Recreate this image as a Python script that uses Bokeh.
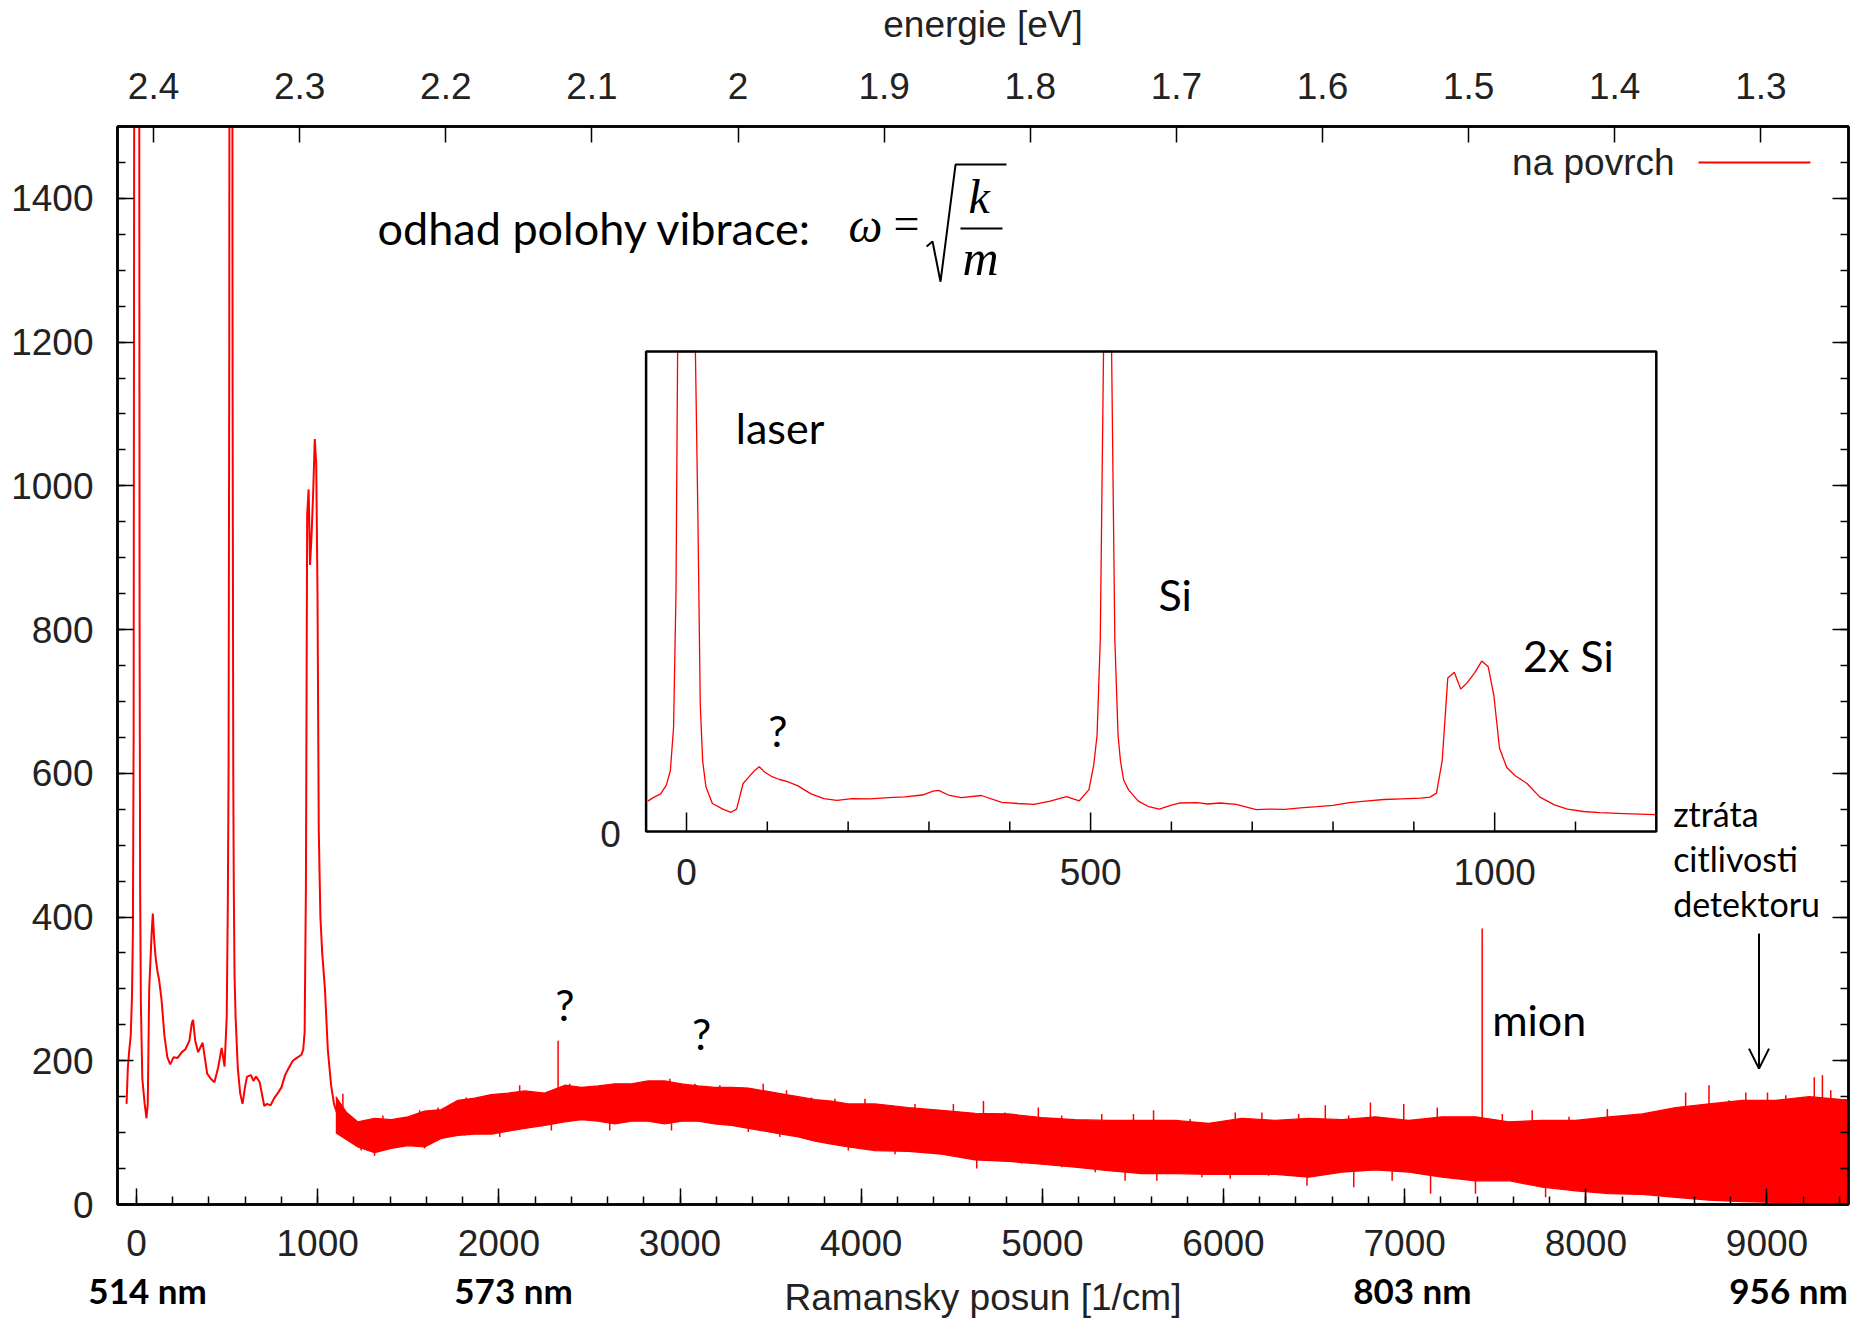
import numpy as np
from bokeh.plotting import figure
from bokeh.models import (Range1d, LinearAxis, FixedTicker, SingleIntervalTicker, Label,
                          Arrow, OpenHead, CustomJSTickFormatter)
from bokeh.embed import file_html
from bokeh.resources import INLINE
from bokeh.core.properties import value

# ---------------- data ----------------
# low-shift part of the Raman spectrum: shift [1/cm], counts
shift_low = [-55, -48, -40, -32, -25, -20, -16, -13, -11, -6, 0, 6, 11, 14, 17, 20, 24, 32, 45, 55,
             62, 70, 77, 84, 90, 97, 105, 115, 125, 138, 154, 170, 186, 205, 227, 250, 270, 292, 305,
             312, 324, 340, 365, 390, 410, 430, 450, 470, 486, 498, 504, 508, 512, 516, 521, 526, 530,
             534, 537, 541, 547, 559, 572, 585, 600, 610, 632, 645, 660, 680, 705, 720, 740, 760, 780,
             800, 820, 840, 863, 885, 909, 920, 928, 935, 942, 950, 958, 966, 975, 984, 992, 999,
             1006, 1015, 1025, 1040, 1056, 1074, 1090, 1110, 1130, 1160, 1199]
counts_low = [140, 190, 215, 235, 290, 380, 650, 1500, 3500, 12000, 30000, 12000, 4000, 2000, 800, 440,
              280, 175, 140, 120, 140, 300, 340, 380, 405, 370, 345, 325, 312, 285, 235, 205, 195, 205,
              204, 212, 216, 228, 252, 257, 228, 212, 225, 182, 175, 170, 190, 218, 192, 262, 420, 600,
              1200, 3000, 9000, 3000, 1200, 600, 440, 320, 260, 190, 155, 140, 165, 178, 180, 172, 178,
              170, 137, 140, 138, 148, 155, 163, 180, 190, 200, 204, 208, 215, 240, 440, 960, 995, 890,
              930, 990, 1065, 1030, 850, 520, 400, 350, 300, 215, 166, 140, 125, 118, 112, 105]

# noisy high-shift part: lower / upper edge of the noise band
band_shift = [1100, 1160, 1222, 1314, 1406, 1498, 1590, 1682, 1774, 1866, 1959, 2051, 2143, 2253,
              2364, 2456, 2548, 2640, 2732, 2824, 2916, 3008, 3100, 3192, 3284, 3377, 3469, 3561,
              3653, 3745, 3837, 3929, 4076, 4260, 4444, 4629, 4813, 4997, 5181, 5365, 5549, 5734,
              5918, 6102, 6286, 6470, 6655, 6839, 7023, 7207, 7391, 7575, 7760, 7944, 8128, 8312,
              8496, 8680, 8865, 9049, 9233, 9417, 9450]
band_low = [100, 90, 80, 72, 78, 82, 80, 92, 96, 98, 98, 102, 106, 110, 115, 118, 116, 112, 116, 116,
            112, 116, 116, 112, 110, 106, 102, 98, 94, 88, 84, 80, 75, 74, 70, 62, 60, 56, 52, 47, 43,
            43, 42, 42, 42, 38, 45, 48, 45, 38, 33, 33, 24, 19, 15, 14, 10, 6, 4, 3, 2, 2, 2]
band_high = [150, 128, 115, 120, 118, 122, 130, 132, 145, 148, 153, 155, 158, 155, 166, 163, 165, 168,
             168, 172, 172, 168, 165, 163, 163, 162, 158, 154, 150, 146, 144, 140, 140, 135, 131, 127,
             126, 121, 118, 117, 117, 117, 113, 120, 117, 120, 118, 122, 117, 122, 122, 115, 117, 117,
             122, 126, 135, 140, 145, 145, 150, 146, 146]

# single spikes sticking out of the band (incl. the "?" line at 2327 and the muon at 7428)
spike_shift = [1139, 1360, 1563, 1664, 1820, 1931, 2032, 2115, 2216, 2327, 2391, 2474, 2649, 2796,
               2944, 3082, 3220, 3340, 3459, 3588, 3726, 3855, 4021, 4168, 4297, 4509, 4675, 4794,
               4978, 5107, 5328, 5503, 5614, 5816, 6065, 6212, 6415, 6562, 6691, 6811, 6995, 7180,
               7428, 7539, 7704, 7907, 8119, 8275, 8423, 8551, 8680, 8791, 8883, 9003, 9104, 9261,
               9306, 9352, 9417,
               1240, 1314, 1590, 1811, 2005, 2290, 2612, 2953, 3377, 3551, 3726, 3929, 4187, 4638,
               4886, 5107, 5292, 5457, 5632, 5881, 6037, 6249, 6461, 6719, 6931, 7143, 7391, 7778,
               7999]
spike_counts = [154, 124, 131, 135, 149, 152, 154, 166, 154, 228, 168, 163, 168, 172,
                175, 168, 166, 163, 168, 159, 149, 147, 147, 138, 140, 140, 144, 128,
                135, 124, 126, 126, 131, 119, 128, 128, 126, 138, 124, 142, 140, 135,
                384, 126, 131, 122, 133, 126, 131, 156, 166, 145, 156, 156, 152, 177,
                180, 159, 122,
                75, 68, 78, 96, 94, 103, 103, 103, 101, 94, 89, 75, 70, 50,
                57, 52, 45, 33, 33, 38, 36, 40, 26, 24, 33, 15, 15, 10,
                6]

energy_ticks = [2.4, 2.3, 2.2, 2.1, 2.0, 1.9, 1.8, 1.7, 1.6, 1.5, 1.4, 1.3]
laser_nm = 514.1
nm_labels = ["514 nm", "573 nm", "803 nm", "956 nm"]
nm_shift = [61, 2081, 7043, 9119]
inset_major = [0, 500, 1000]
inset_minor = [100, 200, 300, 400, 600, 700, 800, 900, 1100]

# ---------------- layout ----------------
W, H = 1858, 1321
FL, FR, FT, FB = 117, 1848, 126, 1204
XR = (-105, 9450)
YR = (0, 1500)
RED = "#ff0000"
AX_FONT = "Liberation Sans"
ANN_FONT = "Lato"


def energy(s):
    return 1239.84 / laser_nm - s * 1.23984e-4


p = figure(width=W, height=H, x_range=Range1d(*XR), y_range=Range1d(*YR),
           output_backend="svg", toolbar_location=None,
           min_border_left=FL, min_border_right=W - FR, min_border_top=FT, min_border_bottom=H - FB)
p.xgrid.visible = False
p.ygrid.visible = False
p.outline_line_color = "black"
p.outline_line_width = 2.5
p.background_fill_color = "white"
p.border_fill_color = "white"


def style_axis(ax, major_in=16, minor_in=8):
    ax.major_tick_in = major_in
    ax.major_tick_out = 0
    ax.minor_tick_in = minor_in
    ax.minor_tick_out = 0
    ax.axis_line_width = 2.5
    ax.axis_line_color = "black"
    ax.major_tick_line_color = "black"
    ax.major_tick_line_width = 1.5
    ax.minor_tick_line_color = "black"
    ax.minor_tick_line_width = 1.5
    ax.major_label_text_font = AX_FONT
    ax.major_label_text_font_size = "37px"
    ax.major_label_text_color = "#222222"
    ax.axis_label_text_font = AX_FONT
    ax.axis_label_text_font_size = "37px"
    ax.axis_label_text_font_style = "normal"
    ax.axis_label_text_color = "#222222"


xa = p.xaxis[0]
xa.ticker = SingleIntervalTicker(interval=1000, num_minor_ticks=5)
style_axis(xa)
xa.major_label_standoff = 25

# second bottom row: wavelength labels + axis title
xb = LinearAxis(ticker=FixedTicker(ticks=nm_shift, minor_ticks=[]),
                formatter=CustomJSTickFormatter(args=dict(pos=nm_shift, lab=nm_labels),
                                                code="const i = pos.indexOf(tick); return i >= 0 ? lab[i] : '';"))
style_axis(xb, 0, 0)
xb.axis_line_color = None
xb.major_tick_line_color = None
xb.minor_tick_line_color = None
xb.major_label_text_font = ANN_FONT
xb.major_label_text_font_style = "bold"
xb.major_label_text_font_size = "35px"
xb.major_label_text_color = "black"
xb.major_label_standoff = 10
xb.axis_label = "Ramansky posun [1/cm]"
xb.axis_label_standoff = -37
p.add_layout(xb, "below")

ya = p.yaxis[0]
ya.ticker = SingleIntervalTicker(interval=200, num_minor_ticks=4)
style_axis(ya)
ya.major_label_standoff = 24

ra = LinearAxis(ticker=SingleIntervalTicker(interval=200, num_minor_ticks=4),
                formatter=CustomJSTickFormatter(code="return '';"))
style_axis(ra)
ra.major_label_standoff = 0
p.add_layout(ra, "right")

p.extra_x_ranges["energy"] = Range1d(energy(XR[0]), energy(XR[1]))
ta = LinearAxis(x_range_name="energy", ticker=FixedTicker(ticks=energy_ticks, minor_ticks=[]),
                formatter=CustomJSTickFormatter(code="return (Math.round(tick*10)/10).toString();"))
style_axis(ta)
ta.major_label_standoff = 28
ta.axis_label = "energie [eV]"
ta.axis_label_standoff = 25
p.add_layout(ta, "above")

# ---------------- main spectrum ----------------
bs = np.array(band_shift, dtype=float)
bl = np.array(band_low, dtype=float)
bh = np.array(band_high, dtype=float)
p.varea(x=bs, y1=bl, y2=bh, fill_color=RED)
p.line(bs, bl, line_color=RED, line_width=1.2)
p.line(bs, bh, line_color=RED, line_width=1.2)
sx = np.array(spike_shift, dtype=float)
base = np.interp(sx, bs, (bl + bh) / 2)
p.segment(x0=sx, y0=base, x1=sx, y1=spike_counts, line_color=RED, line_width=1.5)
p.line(shift_low, counts_low, line_color=RED, line_width=2)


def label(x, y, text, font=ANN_FONT, size=43, dy=-9, **kw):
    p.add_layout(Label(x=x, y=y, text=text, text_font=font, text_font_size=f"{size}px",
                       y_offset=dy, text_color=kw.pop("color", "black"), **kw))


# legend (gnuplot style: text left, sample line right)
label(8490, 1432, "na povrch", font=AX_FONT, size=37, dy=-8, text_align="right", color="#222222")
p.line([8622, 9240], [1450, 1450], line_color=RED, line_width=2)

# ---------------- inset ----------------
IX0, IX1, IY0, IY1 = -50, 1200, 0, 3000
IL, IR, IT, IB = 645.6, 1655.8, 351, 831
kx = (IX1 - IX0) / (IR - IL)
ky = (IY1 - IY0) / (IB - IT)
p.extra_x_ranges["ix"] = Range1d(IX0 - (IL - FL) * kx, IX1 + (FR - IR) * kx)
p.extra_y_ranges["iy"] = Range1d(IY0 - (FB - IB) * ky, IY1 + (IT - FT) * ky)

sl = np.array(shift_low, dtype=float)
cl = np.array(counts_low, dtype=float)
msk = (sl >= IX0) & (sl <= IX1)
p.line(sl[msk], np.minimum(cl[msk], IY1), x_range_name="ix", y_range_name="iy",
       line_color=RED, line_width=1.3)
p.segment(x0=inset_major, y0=[IY0] * 3, x1=inset_major, y1=[IY0 + 19 * ky] * 3,
          x_range_name="ix", y_range_name="iy", line_color="black", line_width=1.5)
p.segment(x0=inset_minor, y0=[IY0] * len(inset_minor), x1=inset_minor,
          y1=[IY0 + 10 * ky] * len(inset_minor),
          x_range_name="ix", y_range_name="iy", line_color="black", line_width=1.5)
p.quad(left=[IX0], right=[IX1], bottom=[IY0], top=[IY1], x_range_name="ix", y_range_name="iy",
       fill_color=None, line_color="black", line_width=2.5)
p.text(x=inset_major, y=[IY0 - 40 * ky] * 3, text=[str(t) for t in inset_major],
       x_range_name="ix", y_range_name="iy", text_font=value(AX_FONT), text_font_size="37px",
       text_align="center", text_baseline="middle", text_color="#222222")
p.text(x=[IX0 - 35.6 * kx], y=[IY0 - 2 * ky], text=["0"], x_range_name="ix", y_range_name="iy",
       text_font=value(AX_FONT), text_font_size="37px", text_align="center",
       text_baseline="middle", text_color="#222222")

for tx, ty, tt in [(61, 2421, "laser"), (584, 1381, "Si"), (1035, 1000, "2x Si")]:
    label(tx, ty, tt, x_range_name="ix", y_range_name="iy")
label(113, 531, "?", text_align="center", x_range_name="ix", y_range_name="iy")

# ---------------- annotations in the main plot ----------------
label(1330, 1334, "odhad polohy vibrace:", size=45)
label(3930, 1340, "ω", font="Liberation Serif", size=48, dy=-11, text_font_style="italic")
label(4178, 1345, "=", font="Liberation Serif", size=46, dy=-11)
label(4593, 1383, "k", font="Liberation Serif", size=48, dy=-12, text_font_style="italic")
label(4560, 1290, "m", font="Liberation Serif", size=50, dy=-9, text_font_style="italic")
p.line([4548, 4780], [1358, 1358], line_color="black", line_width=2)
p.line([4361, 4394, 4438, 4521, 4802], [1333, 1340, 1284, 1447, 1447], line_color="black",
       line_width=2)

label(2365, 259, "?", dy=-12, text_align="center")
label(3119, 214, "?", dy=-8, text_align="center")
label(7483, 235, "mion")
for ty, tt in [(525, "ztráta"), (462, "citlivosti"), (400, "detektoru")]:
    label(8482, ty, tt, size=34, dy=-7)
p.add_layout(Arrow(end=OpenHead(size=20, line_width=2, line_color="black"), x_start=8956, y_start=377,
                   x_end=8956, y_end=189, line_width=2, line_color="black"))

open("out.html", "w").write(file_html(p, INLINE))
